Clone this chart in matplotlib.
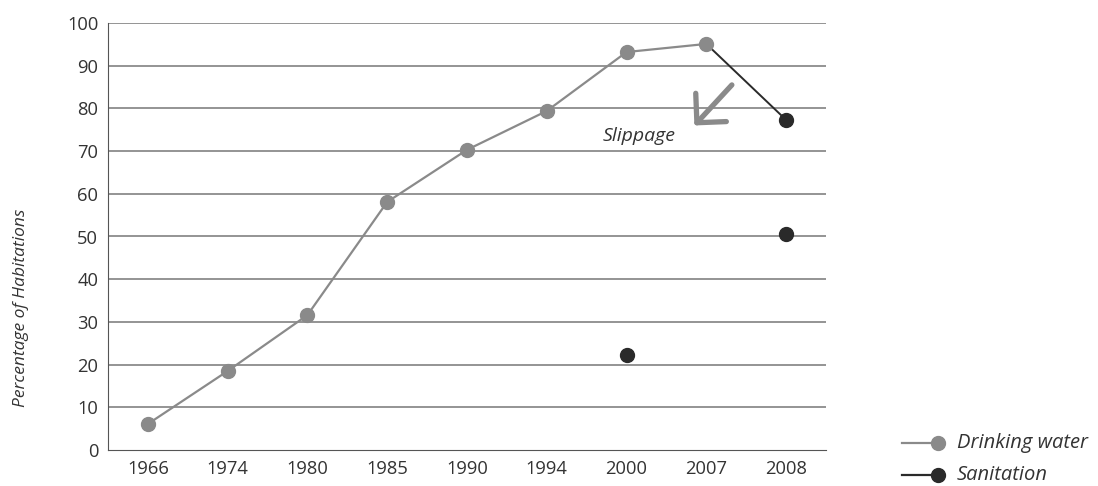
import matplotlib
matplotlib.use("Agg")
import matplotlib.pyplot as plt
from matplotlib.lines import Line2D

years = ["1966", "1974", "1980", "1985", "1990", "1994", "2000", "2007", "2008"]
water_years = ["1966", "1974", "1980", "1985", "1990", "1994", "2000", "2007"]
water_vals = [6.1, 18.5, 31.6, 58.1, 70.3, 79.4, 93.2, 95.1]
slip_years = ["2007", "2008"]
slip_vals = [95.1, 77.3]
sanit_years = ["2000", "2008"]
sanit_vals = [22.2, 50.6]
legend_labels = ["Drinking water", "Sanitation"]

GREY = "#8a8a8a"
DARK = "#2a2a2a"
TXT = "#333333"
plt.rcParams["font.family"] = ["Open Sans", "DejaVu Sans"]

W, H = 1098, 486
fig = plt.figure(figsize=(W / 100, H / 100), dpi=100)
ax = fig.add_axes([108 / W, 1 - 450 / H, 718 / W, 427 / H])
idx = {y: i for i, y in enumerate(years)}

ax.set_xlim(-0.5, len(years) - 0.5)
ax.set_ylim(0, 100)
ax.set_yticks(range(0, 101, 10))
ax.set_xticks(range(len(years)))
ax.set_xticklabels(years)
for v in range(10, 101, 10):
    ax.axhline(v, color="#767676", lw=1.1, zorder=0)
for s in ["top", "right"]:
    ax.spines[s].set_visible(False)
ax.spines["left"].set_color("#555555")
ax.spines["bottom"].set_color("#555555")
ax.tick_params(length=0, labelsize=13.2, colors=TXT, pad=7)

ax.plot([idx[y] for y in water_years], water_vals, "-o", color=GREY, lw=1.6,
        ms=10, zorder=3)
ax.plot([idx[y] for y in slip_years], slip_vals, "-", color=DARK, lw=1.4, zorder=2)
ax.plot(idx["2008"], slip_vals[1], "o", color=DARK, ms=10, zorder=3)
ax.plot([idx[y] for y in sanit_years], sanit_vals, "o", color=DARK, ms=10,
        ls="none", zorder=3)

# "slippage" arrow
ax.annotate("", xy=(6.85, 76.0), xytext=(7.32, 85.5),
            arrowprops=dict(arrowstyle="->,head_length=0.75,head_width=0.75",
                            mutation_scale=20, color=GREY, lw=3.8,
                            shrinkA=0, shrinkB=0))
ax.text(6.16, 73.6, "Slippage", style="italic", fontsize=14, color=TXT,
        ha="center", va="center")

ax.set_ylabel("Percentage of Habitations", style="italic", fontsize=12.5,
              color=TXT)
ax.yaxis.set_label_coords(-0.11, 0.333)

# legend drawn in figure pixels: line with marker at its right end
for i, (lab, col) in enumerate(zip(legend_labels, [GREY, DARK])):
    yf = 1 - (443 + 32 * i) / H
    fig.add_artist(Line2D([902 / W, 938 / W], [yf, yf], color=col, lw=1.6,
                          transform=fig.transFigure))
    fig.add_artist(Line2D([938 / W], [yf], color=col, marker="o", ms=10,
                          transform=fig.transFigure))
    fig.text(957 / W, yf, lab, style="italic", fontsize=14.5, color=TXT,
             va="center", ha="left")

fig.savefig("out.png", dpi=100)
